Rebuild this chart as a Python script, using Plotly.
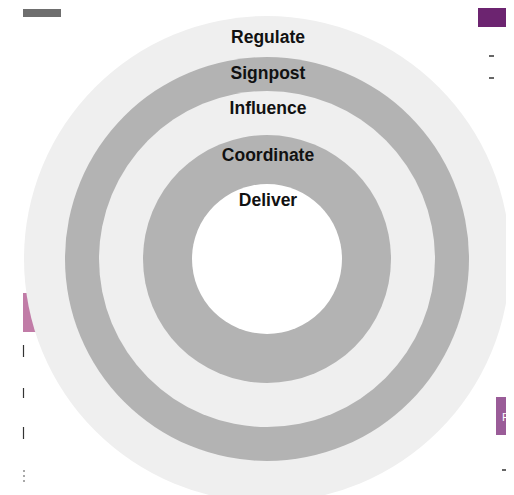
import plotly.graph_objects as go

# Ring data (outer radius in px, from outermost to innermost)
ring_labels = ["Regulate", "Signpost", "Influence", "Coordinate", "Deliver"]
ring_radius = [243, 202, 168, 124, 75]
ring_colors = ["#efefef", "#b3b3b3", "#efefef", "#b3b3b3", "#ffffff"]
label_y = [38.5, 74.5, 110, 156.5, 201.5]

CX, CY = 267, 259
W, H = 514, 495
OFF = 8  # page body margin

fig = go.Figure()

shapes = []
# background slide fragment (behind circles)
shapes.append(dict(type="rect", x0=23, x1=42, y0=293, y1=332, fillcolor="#c17ca7", line_width=0, layer="below"))

for r, c in zip(ring_radius, ring_colors):
    shapes.append(dict(type="circle", x0=CX - r, x1=CX + r, y0=CY - r, y1=CY + r,
                       fillcolor=c, line_width=0, layer="below"))

# white strip on the right edge of the screenshot
shapes.append(dict(type="rect", x0=507, x1=520, y0=0, y1=500, fillcolor="#ffffff", line_width=0))
# slide fragments on top
shapes.append(dict(type="rect", x0=23, x1=61, y0=9, y1=17, fillcolor="#6e6e6e", line_width=0))
shapes.append(dict(type="rect", x0=478, x1=507, y0=0, y1=27, fillcolor="#6c2470", line_width=0))
shapes.append(dict(type="rect", x0=496, x1=507, y0=397, y1=435, fillcolor="#9a5c98", line_width=0))
for yy in [56, 78]:
    shapes.append(dict(type="line", x0=489, x1=494, y0=yy, y1=yy, line=dict(color="#333333", width=1.5)))
shapes.append(dict(type="line", x0=502, x1=507, y0=470, y1=470, line=dict(color="#333333", width=1.5)))
for y0, y1 in [(345, 357), (388, 398), (427, 439)]:
    shapes.append(dict(type="line", x0=23.5, x1=23.5, y0=y0, y1=y1, line=dict(color="#333333", width=1.2)))
for yy in [471, 476, 481]:
    shapes.append(dict(type="line", x0=23, x1=25, y0=yy, y1=yy, line=dict(color="#555555", width=1.2)))

fig.update_layout(shapes=shapes)

fig.add_trace(go.Scatter(
    x=[CX + 1] * len(ring_labels), y=label_y, text=ring_labels, mode="text",
    textposition="middle center",
    textfont=dict(family="Liberation Sans, Arial, sans-serif", size=17.5, color="#111111"),
    texttemplate="<b>%{text}</b>", hoverinfo="skip", showlegend=False))

fig.add_annotation(x=500, y=417, text="F", showarrow=False, xanchor="left", yanchor="middle",
                   font=dict(family="Liberation Sans, Arial", size=11, color="#ffffff"))

fig.update_xaxes(range=[OFF, W], visible=False, fixedrange=True)
fig.update_yaxes(range=[H, OFF], visible=False, fixedrange=True)
fig.update_layout(width=W - OFF, height=H - OFF, autosize=False, margin=dict(l=0, r=0, t=0, b=0),
                  paper_bgcolor="#ffffff", plot_bgcolor="#ffffff")

fig.write_html("out.html", config={"displayModeBar": False})
